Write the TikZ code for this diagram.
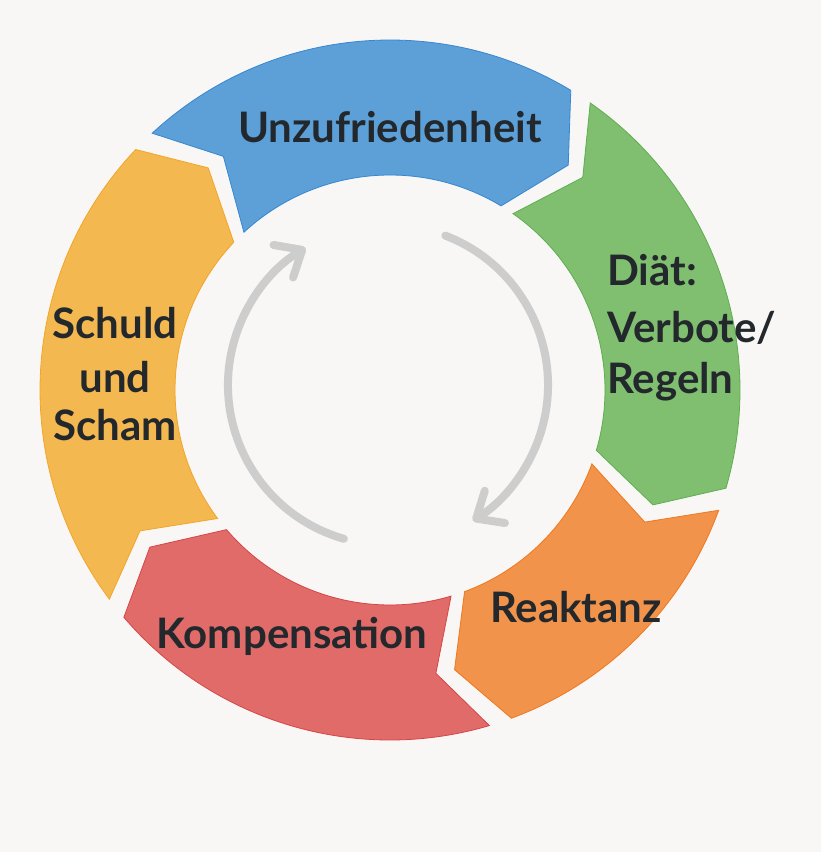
\documentclass[tikz,border=0pt]{standalone}
\usepackage{fontspec}
\setmainfont{Lato}
\usetikzlibrary{arrows.meta}
\definecolor{bg}{RGB}{248,247,245}
\definecolor{cblue}{RGB}{92,160,215}
\definecolor{dblue}{RGB}{55,135,210}
\definecolor{cgreen}{RGB}{128,190,112}
\definecolor{dgreen}{RGB}{95,175,80}
\definecolor{corange}{RGB}{241,147,75}
\definecolor{dorange}{RGB}{240,120,30}
\definecolor{cred}{RGB}{224,107,104}
\definecolor{dred}{RGB}{215,70,70}
\definecolor{cyellow}{RGB}{244,184,80}
\definecolor{dyellow}{RGB}{242,165,40}
\definecolor{txt}{RGB}{35,40,45}
\definecolor{arrowgray}{RGB}{205,205,205}
\newcommand\ringseg[4]{%
  \filldraw[fill=#1, draw=#2, line width=0.8pt]
    ({#3-1.9}:350) arc[start angle={#3-1.9}, end angle={#4+1.9}, radius=350]
    -- ({#4+1.9-7.3}:287) -- ({#4+1.9}:215)
    arc[start angle={#4+1.9}, end angle={#3-1.9}, radius=215]
    -- ({#3-1.9-7.3}:287) -- cycle;}
\tikzset{
  lbl/.style={font=\fontsize{42}{50}\selectfont\bfseries, text=txt, inner sep=0pt},
  cyc/.style={draw=arrowgray, line width=8pt, line cap=round,
    -{Straight Barb[length=22pt,width=38pt,round]}}
}
\begin{document}
\begin{tikzpicture}[x=1pt,y=1pt]
\fill[bg] (-390,-462) rectangle (431,390);
\useasboundingbox (-390,-462) rectangle (431,390);
% ring segments
\ringseg{cblue}{dblue}{134.7}{57}
\ringseg{cgreen}{dgreen}{57}{-18.2}
\ringseg{corange}{dorange}{-18.2}{-71.6}
\ringseg{cred}{dred}{-71.6}{-141.4}
\ringseg{cyellow}{dyellow}{218.6}{134.7}
% labels
\node[lbl, anchor=base] (unz) at (0,247) {Unzufriedenheit};
\node[lbl, anchor=base west] (diat1) at (217,105) {Diät:};
\node[lbl, anchor=base west] (diat2) at (217,48) {Verbote/};
\node[lbl, anchor=base west] (diat3) at (217,-3) {Regeln};
\node[lbl, anchor=base] (rea) at (186,-232) {Reaktanz};
\node[lbl, anchor=base] (komp) at (-98,-258) {Kompensation};
\node[lbl, anchor=base] (sch1) at (-275,52) {Schuld};
\node[lbl, anchor=base] (sch2) at (-275,-2) {und};
\node[lbl, anchor=base] (sch3) at (-275,-50) {Scham};
% central cycle arrows
\coordinate (ac) at (-2,5);
\coordinate (lstart) at ([shift={(254:160)}]ac);
\coordinate (rstart) at ([shift={(69:160)}]ac);
\draw[cyc] (lstart) arc[start angle=254, end angle=121, radius=160];
\draw[cyc] (rstart) arc[start angle=69, end angle=-58, radius=160];
\end{tikzpicture}
\end{document}
